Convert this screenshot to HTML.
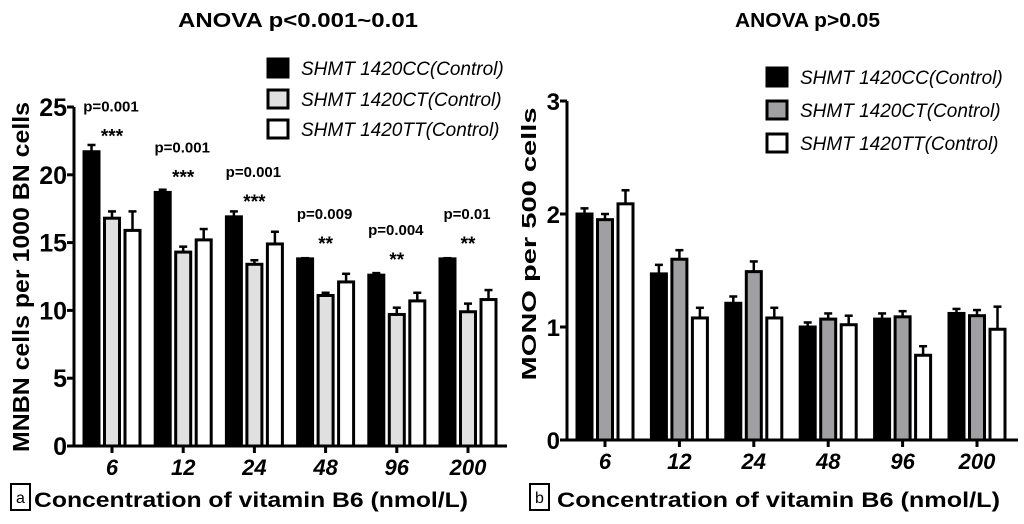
<!DOCTYPE html>
<html><head><meta charset="utf-8"><style>
body{margin:0;background:#fff;}
svg{display:block;font-family:"Liberation Sans",Arial,sans-serif;}
</style></head><body>
<svg id="s" width="1024" height="524">
<text x="178" y="27" font-size="20" font-weight="bold" textLength="240" lengthAdjust="spacingAndGlyphs">ANOVA   p&lt;0.001~0.01</text>
<text x="735" y="27" font-size="20" font-weight="bold" textLength="145" lengthAdjust="spacingAndGlyphs">ANOVA    p&gt;0.05</text>
<text transform="translate(29,277) rotate(-90)" text-anchor="middle" font-size="23" font-weight="bold" textLength="350" lengthAdjust="spacingAndGlyphs">MNBN cells per 1000 BN cells</text>
<text transform="translate(536,244) rotate(-90)" text-anchor="middle" font-size="20" font-weight="bold" textLength="273" lengthAdjust="spacingAndGlyphs">MONO per 500 cells</text>
<text x="34" y="507" font-size="21" font-weight="bold" textLength="434" lengthAdjust="spacingAndGlyphs">Concentration of vitamin B6 (nmol/L)</text>
<text x="557" y="507" font-size="21" font-weight="bold" textLength="443" lengthAdjust="spacingAndGlyphs">Concentration of  vitamin B6 (nmol/L)</text>
<rect x="11" y="484" width="19" height="26" fill="none" stroke="#000" stroke-width="2"/>
<text x="20.5" y="503" text-anchor="middle" font-size="16">a</text>
<rect x="530" y="484" width="19" height="26" fill="none" stroke="#000" stroke-width="2"/>
<text x="539.5" y="503" text-anchor="middle" font-size="16">b</text>
<g id="L"></g>
<g id="R"></g>
</svg>
<script>
const categories=["6","12","24","48","96","200"];
const seriesNames=["SHMT 1420CC(Control)","SHMT 1420CT(Control)","SHMT 1420TT(Control)"];
const leftCC=[21.7,18.7,16.9,13.8,12.6,13.8];
const leftCCErr=[0.5,0.2,0.4,0.05,0.15,0.05];
const leftCT=[16.8,14.3,13.4,11.1,9.7,9.9];
const leftCTErr=[0.5,0.4,0.3,0.2,0.5,0.6];
const leftTT=[15.9,15.2,14.9,12.1,10.7,10.8];
const leftTTErr=[1.4,0.8,0.9,0.6,0.6,0.7];
const leftTicks=[0,5,10,15,20,25];
const pLabels=["p=0.001","p=0.001","p=0.001","p=0.009","p=0.004","p=0.01"];
const stars=["***","***","***","**","**","**"];
const rightCC=[2.0,1.47,1.21,1.0,1.07,1.12];
const rightCCErr=[0.05,0.08,0.06,0.04,0.05,0.04];
const rightCT=[1.95,1.6,1.49,1.07,1.09,1.1];
const rightCTErr=[0.05,0.08,0.09,0.05,0.05,0.05];
const rightTT=[2.09,1.08,1.08,1.02,0.75,0.98];
const rightTTErr=[0.12,0.09,0.09,0.08,0.08,0.2];
const rightTicks=[0,1,2,3];
const NS="http://www.w3.org/2000/svg";
function mk(p,t,a){const e=document.createElementNS(NS,t);for(const k in a)e.setAttribute(k,a[k]);p.appendChild(e);return e;}
function chart(g,o){
  const y=v=>o.y0-(v-0)*(o.y0-o.yTop)/o.yMax;
  const xc=i=>o.x0c+i*o.step;
  mk(g,'line',{x1:o.ax,y1:o.yTop,x2:o.ax,y2:o.y0+1,stroke:'#000','stroke-width':3});
  mk(g,'line',{x1:o.ax,y1:o.y0,x2:o.axEnd,y2:o.y0,stroke:'#000','stroke-width':3});
  o.ticks.forEach(t=>{
    const ln=mk(g,'line',{x1:o.ax-7,y1:y(t),x2:o.ax,y2:y(t),stroke:'#000','stroke-width':3});
    
    
    const tx=mk(g,'text',{x:o.ax-7,y:y(t)+9,'text-anchor':'end','font-size':o.tickFs,'font-weight':'bold'});
    tx.textContent=t;
    
    
  });
  const fills=['#000',o.gray,'#fff'];
  categories.forEach((c,i)=>{
    const tk=mk(g,'line',{x1:xc(i),y1:o.y0,x2:xc(i),y2:o.y0+7,stroke:'#000','stroke-width':3});
    
    
    const tx=mk(g,'text',{x:xc(i),y:o.y0+29,'text-anchor':'middle','font-size':22,'font-weight':'bold','font-style':'italic'});
    tx.textContent=c;
    
    
    o.series.forEach((s,j)=>{
      const cx=xc(i)+(j-1)*o.pitch;
      const v=s[0][i],e=s[1][i];
      const el=mk(g,'line',{x1:cx,y1:y(v),x2:cx,y2:y(v+e),stroke:'#000','stroke-width':2.5});
      
      
      const cap=mk(g,'line',{x1:cx-4,y1:y(v+e),x2:cx+4,y2:y(v+e),stroke:'#000','stroke-width':2.5});
      
      
      const b=mk(g,'rect',{x:cx-o.bw/2,y:y(v),width:o.bw,height:o.y0-y(v),fill:fills[j],stroke:'#000','stroke-width':3});
      
      
    });
    if(o.p){
      const st=mk(g,'text',{x:xc(i),y:y(o.series[0][0][i])-9,'text-anchor':'middle','font-size':19,'font-weight':'bold'});
      st.textContent=stars[i];
      
      
      const pt=mk(g,'text',{x:xc(i)-1,y:y(o.series[0][0][i])-40,'text-anchor':'middle','font-size':15,'font-weight':'bold'});
      pt.textContent=pLabels[i];
      
      
    }
  });
  o.legY.forEach((ly,j)=>{
    const r=mk(g,'rect',{x:o.legX,y:ly-9,width:20,height:18,fill:fills[j],stroke:'#000','stroke-width':3});
    
    
    const t=mk(g,'text',{x:o.legX+33,y:ly+7,'font-size':19,'font-style':'italic'});
    t.textContent=seriesNames[j];
    
    
  });
}
chart(document.getElementById('L'),{ax:74,axEnd:507,y0:446,yTop:107,yMax:25,ticks:leftTicks,tickFs:25,x0c:112,step:71.2,pitch:20.5,bw:15,gray:'#e0e0e0',
  series:[[leftCC,leftCCErr],[leftCT,leftCTErr],[leftTT,leftTTErr]],p:true,legX:268,legY:[68,99,129]});
chart(document.getElementById('R'),{ax:567,axEnd:1018,y0:440,yTop:101,yMax:3,ticks:rightTicks,tickFs:24,x0c:605,step:74.4,pitch:20.5,bw:15,gray:'#a0a0a2',
  series:[[rightCC,rightCCErr],[rightCT,rightCTErr],[rightTT,rightTTErr]],p:false,legX:767,legY:[77,110,143]});
</script>
</body></html>
